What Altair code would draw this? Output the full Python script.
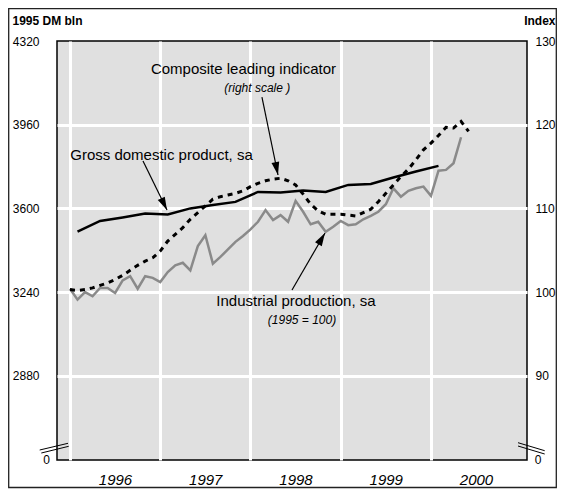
import altair as alt
import pandas as pd

# ---------------- data ----------------
years = [1996, 1997, 1998, 1999, 2000]
left_ticks = [2880, 3240, 3600, 3960, 4320]
right_ticks = [90, 100, 110, 120, 130]

# GDP, quarterly (1995 DM bln), Q1 1996 .. Q1 2000 (plotted mid-quarter)
gdp_dm = [3500, 3546, 3561, 3578, 3574, 3600, 3615, 3628, 3671, 3668, 3677, 3671,
          3701, 3705, 3733, 3759, 3783]
# Industrial production, monthly index (1995 = 100), Jan 1996 ..
ip_index = [100.4, 99.1, 100.0, 99.5, 100.5, 100.5, 99.9, 101.4, 101.9, 100.4, 101.9, 101.7,
            101.2, 102.4, 103.2, 103.5, 102.6, 105.5, 106.8, 103.4, 104.2, 105.1, 106.0, 106.7,
            107.5, 108.4, 109.8, 108.6, 109.2, 108.4, 110.9, 109.6, 108.1, 108.4, 107.2, 107.8,
            108.5, 108.0, 108.1, 108.7, 109.1, 109.6, 110.5, 112.4, 111.4, 112.1, 112.4, 112.6,
            111.5, 114.5, 114.6, 115.4, 118.5]
# Composite leading indicator, monthly index, Jan 1996 ..
cli_index = [100.3, 100.2, 100.3, 100.5, 100.8, 101.1, 101.5, 102.0, 102.6, 103.2, 103.7, 104.1,
             104.9, 106.1, 106.9, 107.7, 108.7, 109.5, 110.3, 111.1, 111.4, 111.6, 111.8, 112.1,
             112.6, 113.0, 113.3, 113.5, 113.6, 113.3, 112.8, 111.7, 110.5, 109.7, 109.3, 109.3,
             109.3, 109.2, 109.1, 109.5, 109.9, 110.8, 111.8, 112.8, 113.8, 114.7, 115.8, 117.0,
             117.8, 118.7, 119.7, 119.6, 120.4, 119.2]

# annotations (data coordinates: year, DM bln)
ann_text = ["Composite leading indicator", "Gross domestic product, sa", "Industrial production, sa"]
ann_x = [1997.922, 1997.014, 1998.504]
ann_y = [4199.6, 3829.7, 3201.7]
note_text = ["(right scale )", "(1995 = 100)"]
note_x = [1998.075, 1998.571]
note_y = [4117.9, 3120.0]
arrow_x = [1998.127, 1996.809, 1998.460]
arrow_y = [4079.1, 3803.9, 3249.1]
arrow_x2 = [1998.305, 1997.075, 1998.826]
arrow_y2 = [3743.7, 3593.1, 3494.2]
head_x = [1998.290, 1997.043, 1998.789]
head_y = [3771.2, 3618.1, 3470.1]
head_angle = [168.4, 153.9, 30.1]

# ---------------- tables ----------------
gdp_df = pd.DataFrame({"x": [1996 + (3 * q + 1) / 12 for q in range(len(gdp_dm))], "v": gdp_dm})
ip_df = pd.DataFrame({"x": [1996 + m / 12 for m in range(len(ip_index))], "v": ip_index})
cli_df = pd.DataFrame({"x": [1996 + m / 12 for m in range(len(cli_index))], "v": cli_index})
ann_df = pd.DataFrame({"t": ann_text, "x": ann_x, "y": ann_y})
note_df = pd.DataFrame({"t": note_text, "x": note_x, "y": note_y})
arrow_df = pd.DataFrame({"x": arrow_x, "y": arrow_y, "x2": arrow_x2, "y2": arrow_y2})
head_df = pd.DataFrame({"x": head_x, "y": head_y, "a": head_angle})
dummy = alt.Data(values=[{"k": 1}])

FONT = "Liberation Sans"

x_scale = alt.Scale(domain=[1995.856, 2001.064], nice=False, zero=False)
x_axis = alt.Axis(values=years, format="d", title=None, grid=True, gridColor="white", gridWidth=3,
                  ticks=False, domain=False, labelOffset=45, labelPadding=12, labelFontSize=15,
                  labelFontStyle="italic", labelFlush=False, labelOverlap=False, labelColor="black")

dm_scale = alt.Scale(domain=[2518, 4320], nice=False, zero=False)
dm_axis = alt.Axis(values=left_ticks, format="d", orient="left", title="1995 DM bln", grid=True,
                   gridColor="white", gridWidth=3,
                   gridOpacity={"condition": {"test": "datum.value >= 4320", "value": 0}, "value": 1},
                   ticks=False, domain=False, labelPadding=18, labelFontSize=12, labelColor="black",
                   titleAngle=0, titleX=-45, titleY=-21, titleAlign="left", titleBaseline="middle",
                   titleFontSize=12, titleFontWeight="bold", titleColor="black")

idx_scale = alt.Scale(domain=[79.94, 130], nice=False, zero=False)
idx_axis = alt.Axis(values=right_ticks, format="d", orient="right", title="Index", grid=False,
                    ticks=False, domain=False, labelPadding=8, labelFontSize=12, labelColor="black",
                    titleAngle=0, titleX=28, titleY=-21, titleAlign="right", titleBaseline="middle",
                    titleFontSize=12, titleFontWeight="bold", titleColor="black")


def X(f):
    return alt.X(f, type="quantitative", scale=x_scale, axis=x_axis)


def YD(f):
    return alt.Y(f, type="quantitative", scale=dm_scale, axis=dm_axis)


def YI(f):
    return alt.Y(f, type="quantitative", scale=idx_scale, axis=idx_axis)


gdp_line = alt.Chart(gdp_df).mark_line(color="black", strokeWidth=2.5).encode(x=X("x"), y=YD("v"))

ann = alt.Chart(ann_df).mark_text(fontSize=15, color="black", align="center", baseline="middle",
                                  font=FONT).encode(x=X("x"), y=YD("y"), text="t:N")
notes = alt.Chart(note_df).mark_text(fontSize=12, fontStyle="italic", color="black", align="center",
                                     baseline="middle", font=FONT).encode(x=X("x"), y=YD("y"), text="t:N")
arrows = alt.Chart(arrow_df).mark_rule(color="black", strokeWidth=1.2).encode(
    x=X("x"), y=YD("y"), x2="x2:Q", y2="y2:Q")
heads = alt.Chart(head_df).mark_point(shape="M0,-1L0.6,1L-0.6,1Z", filled=True, size=169,
                                      color="black", opacity=1, strokeWidth=0).encode(
    x=X("x"), y=YD("y"), angle=alt.Angle("a:Q", scale=None))


def seg(x1, y1, x2, y2):
    return alt.Chart(dummy).mark_rule(color="black", strokeWidth=1).encode(
        x=alt.value(x1), y=alt.value(y1), x2=alt.value(x2), y2=alt.value(y2))


breaks = [seg(-17.3, 409, 11, 402.3), seg(-15.7, 412, 11.7, 405.3),
          seg(461, 401.7, 487.7, 409.7), seg(461, 405, 487.7, 413)]
zero_l = alt.Chart(dummy).mark_text(text="0", fontSize=12, font=FONT, color="black", align="center",
                                    baseline="middle").encode(x=alt.value(-10.5), y=alt.value(419))
zero_r = alt.Chart(dummy).mark_text(text="0", fontSize=12, font=FONT, color="black", align="center",
                                    baseline="middle").encode(x=alt.value(481), y=alt.value(419))
frame = alt.Chart(dummy).mark_rect(fillOpacity=0, stroke="#222", strokeWidth=1.3).encode(
    x=alt.value(-48.3), x2=alt.value(499.3), y=alt.value(-32.3), y2=alt.value(446.5))

dm_layer = alt.layer(gdp_line, arrows, heads, ann, notes, zero_l, zero_r, frame, *breaks)

ip_line = alt.Chart(ip_df).mark_line(color="#8a8a8a", strokeWidth=2.5).encode(x=X("x"), y=YI("v"))
cli_line = alt.Chart(cli_df).mark_line(color="black", strokeWidth=3, strokeDash=[5, 5]).encode(
    x=X("x"), y=YI("v"))
idx_layer = alt.layer(ip_line, cli_line)

chart = alt.layer(dm_layer, idx_layer).resolve_scale(y="independent").properties(
    width=470, height=419,
    padding={"left": 49, "top": 33, "right": 30, "bottom": 29},
    autosize=alt.AutoSizeParams(type="none"),
).configure(font=FONT).configure_axis(labelFont=FONT, titleFont=FONT).configure_view(
    fill="#e0e0e0", stroke="black", strokeWidth=1.5)

chart.save("out.html", embed_options={"renderer": "svg", "actions": False})
